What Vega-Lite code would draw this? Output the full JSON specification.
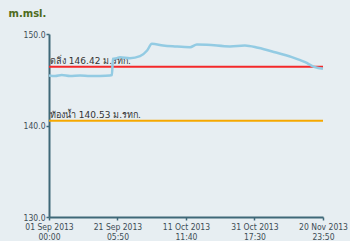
{
  "$schema": "https://vega.github.io/schema/vega-lite/v6.json",
  "width": 274,
  "height": 183,
  "autosize": {"type": "none"},
  "padding": {"left": 49, "top": 34, "right": 27, "bottom": 24},
  "background": "#e7eef2",
  "config": {"view": {"stroke": null}, "font": "DejaVu Sans"},
  "datasets": {
    "water": [
      {"t": "2013-09-01T00:00:00Z", "v": 145.47},
      {"t": "2013-09-02T19:00:00Z", "v": 145.41},
      {"t": "2013-09-04T19:00:00Z", "v": 145.52},
      {"t": "2013-09-07T05:00:00Z", "v": 145.41},
      {"t": "2013-09-10T05:00:00Z", "v": 145.47},
      {"t": "2013-09-13T02:00:00Z", "v": 145.41},
      {"t": "2013-09-16T02:00:00Z", "v": 145.42},
      {"t": "2013-09-19T00:00:00Z", "v": 145.47},
      {"t": "2013-09-19T14:00:00Z", "v": 145.52},
      {"t": "2013-09-19T22:00:00Z", "v": 147.29},
      {"t": "2013-09-21T02:00:00Z", "v": 147.36},
      {"t": "2013-09-22T00:00:00Z", "v": 147.47},
      {"t": "2013-09-24T22:00:00Z", "v": 147.36},
      {"t": "2013-09-27T22:00:00Z", "v": 147.58},
      {"t": "2013-09-30T00:00:00Z", "v": 148.2},
      {"t": "2013-10-01T10:00:00Z", "v": 148.93},
      {"t": "2013-10-04T17:00:00Z", "v": 148.74},
      {"t": "2013-10-08T05:00:00Z", "v": 148.64},
      {"t": "2013-10-12T17:00:00Z", "v": 148.56},
      {"t": "2013-10-14T17:00:00Z", "v": 148.85},
      {"t": "2013-10-17T17:00:00Z", "v": 148.82},
      {"t": "2013-10-24T12:00:00Z", "v": 148.64},
      {"t": "2013-10-28T22:00:00Z", "v": 148.74},
      {"t": "2013-11-01T19:00:00Z", "v": 148.49},
      {"t": "2013-11-06T19:00:00Z", "v": 148.01},
      {"t": "2013-11-11T19:00:00Z", "v": 147.47},
      {"t": "2013-11-15T17:00:00Z", "v": 146.92},
      {"t": "2013-11-18T14:00:00Z", "v": 146.38},
      {"t": "2013-11-20T23:50:00Z", "v": 146.2}
    ],
    "levels": [
      {"name": "bank", "level": 146.42, "label": "ตลิ่ง 146.42 ม.รทก."},
      {"name": "bed", "level": 140.53, "label": "ท้องน้ำ 140.53 ม.รทก."}
    ]
  },
  "layer": [
    {
      "data": {"name": "levels"},
      "mark": {"type": "rule", "strokeWidth": 2},
      "encoding": {
        "y": {"field": "level", "type": "quantitative", "scale": {"domain": [130, 150], "nice": false, "zero": false},
          "axis": {
            "values": [130, 140, 150], "format": ".1f", "title": "m.msl.",
            "titleAngle": 0, "titleAlign": "left", "titleBaseline": "middle",
            "titleX": -41, "titleY": -21, "titleFontSize": 10, "titleFontWeight": "bold", "titleColor": "#4e6b1c",
            "domainColor": "#3f6878", "domainWidth": 2, "tickColor": "#3f6878", "tickSize": 3, "tickWidth": 1.5,
            "labelFont": "DejaVu Sans Condensed", "labelFontSize": 8.5, "labelColor": "#3d4d55", "labelPadding": 1, "grid": false
          }},
        "color": {"field": "name", "type": "nominal", "scale": {"domain": ["bank", "bed"], "range": ["#f4282a", "#f6a800"]}, "legend": null}
      }
    },
    {
      "data": {"name": "levels"},
      "mark": {"type": "text", "align": "left", "baseline": "bottom", "dx": 1, "dy": -1, "fontSize": 9, "color": "#333333"},
      "encoding": {
        "x": {"datum": {"year": 2013, "month": 9, "date": 1, "utc": true}, "type": "temporal"},
        "y": {"field": "level", "type": "quantitative"},
        "text": {"field": "label"}
      }
    },
    {
      "data": {"name": "water"},
      "mark": {"type": "line", "interpolate": "monotone", "strokeWidth": 2.5, "color": "#93cbe3"},
      "encoding": {
        "x": {"field": "t", "type": "temporal",
          "scale": {"type": "utc", "domain": [
            {"year": 2013, "month": 9, "date": 1, "hours": 0, "minutes": 0, "utc": true},
            {"year": 2013, "month": 11, "date": 20, "hours": 23, "minutes": 50, "utc": true}
          ]},
          "axis": {
            "values": [
              {"year": 2013, "month": 9, "date": 1, "hours": 0, "minutes": 0, "utc": true},
              {"year": 2013, "month": 9, "date": 21, "hours": 5, "minutes": 50, "utc": true},
              {"year": 2013, "month": 10, "date": 11, "hours": 11, "minutes": 40, "utc": true},
              {"year": 2013, "month": 10, "date": 31, "hours": 17, "minutes": 30, "utc": true},
              {"year": 2013, "month": 11, "date": 20, "hours": 23, "minutes": 50, "utc": true}
            ],
            "labelExpr": "[utcFormat(datum.value, '%d %b %Y'), utcFormat(datum.value, '%H:%M')]",
            "title": null, "grid": false, "labelFlush": false, "labelOverlap": false,
            "domainColor": "#3f6878", "domainWidth": 2, "tickColor": "#3f6878", "tickSize": 3, "tickWidth": 1.5,
            "labelFont": "DejaVu Sans Condensed", "labelFontSize": 8.5, "labelColor": "#3d4d55", "labelPadding": 2, "labelLineHeight": 10.5
          }},
        "y": {"field": "v", "type": "quantitative"}
      }
    }
  ]
}
